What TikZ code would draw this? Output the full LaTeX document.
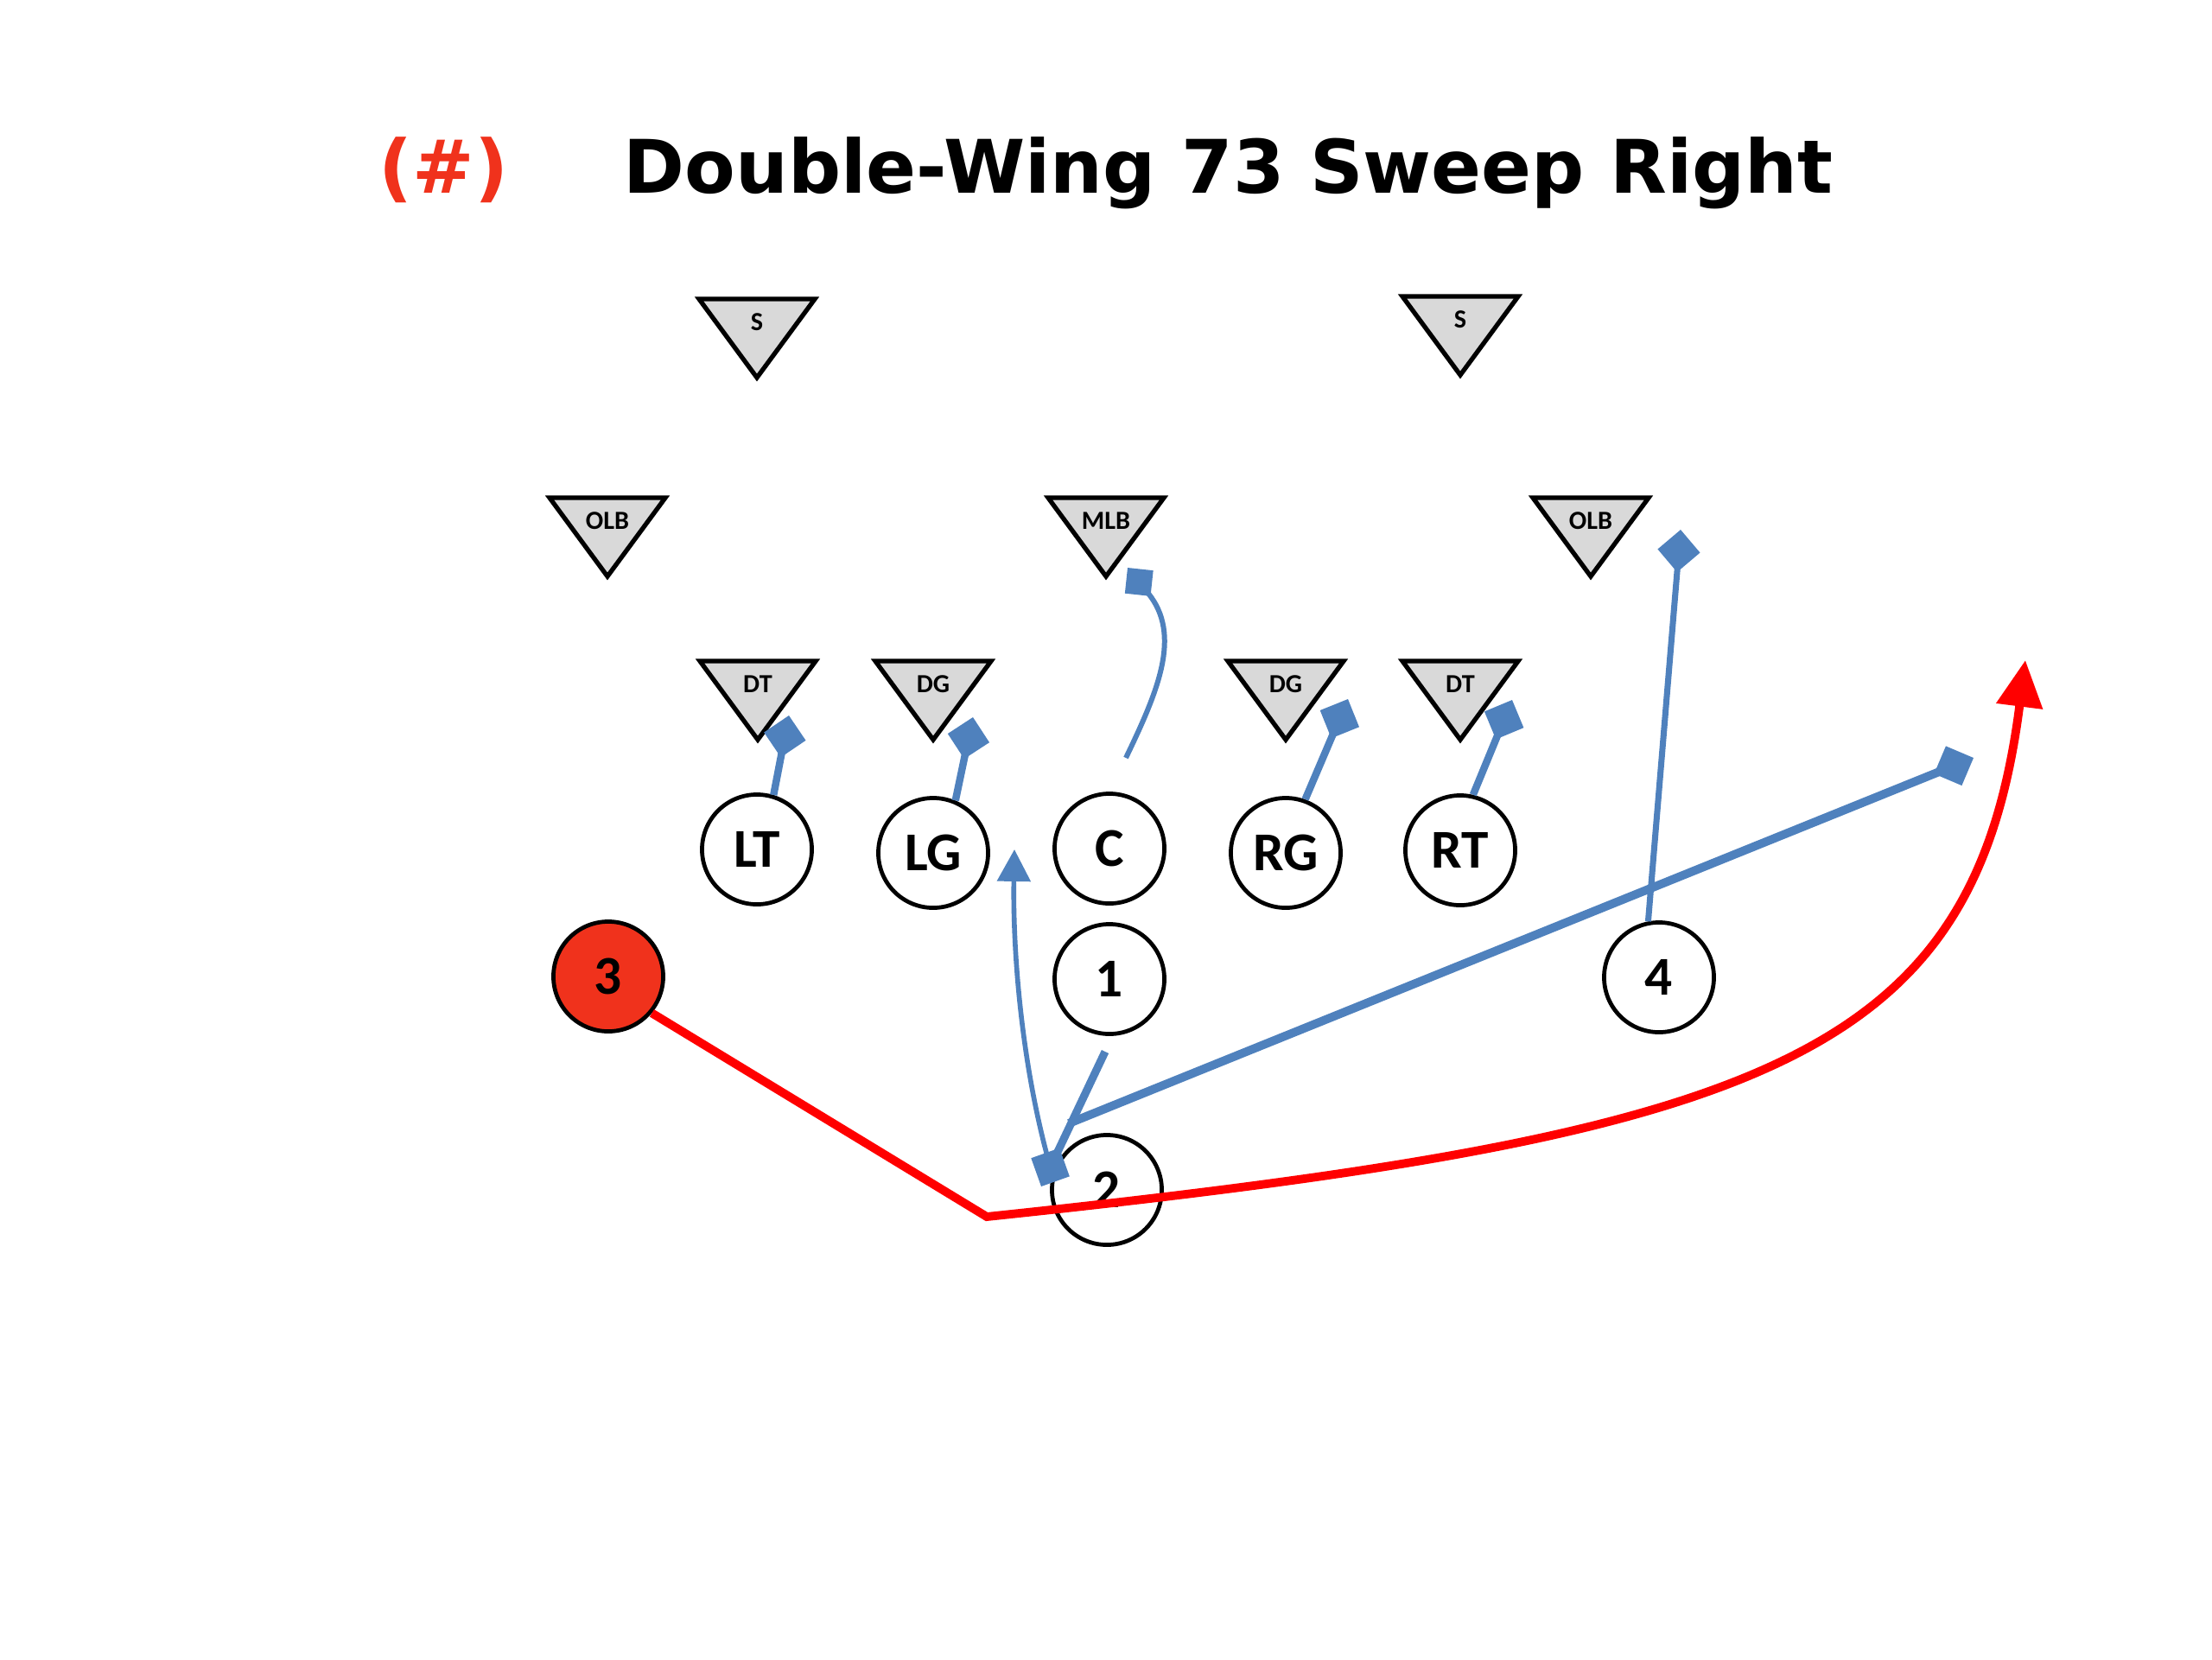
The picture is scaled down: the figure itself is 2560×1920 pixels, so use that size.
\documentclass[tikz,border=0pt]{standalone}
\usepackage{fontspec}
\setmainfont{Carlito}
\newfontfamily\titlefont{DejaVu Sans}
\usetikzlibrary{arrows.meta,calc}
\definecolor{pblue}{RGB}{79,129,189}
\definecolor{pred}{RGB}{255,0,0}
\definecolor{porange}{RGB}{240,50,28}
\definecolor{pgray}{RGB}{217,217,217}
\newcommand{\defender}[4]{%
  \draw[deftri] (#2-67,#3) -- (#2+67,#3) -- (#2,#3+91) -- cycle;
  \node[deflabel] (#1) at (#2,#3+27) {#4};
}
\begin{document}
\begin{tikzpicture}[x=0.01cm,y=-0.01cm,
  player/.style={circle,draw=black,line width=1.35pt,fill=white,minimum size=1.27cm,inner sep=0pt,
    font=\bfseries\fontsize{18}{19}\selectfont},
  hotplayer/.style={player,fill=porange},
  deftri/.style={draw=black,fill=pgray,line width=1.5pt,line join=miter},
  deflabel/.style={inner sep=0pt,font=\bfseries\fontsize{8.6}{10}\selectfont},
  blockline/.style={draw=pblue,line width=2.4pt,-{Diamond[length=14pt,width=14pt]}},
  thinblock/.style={draw=pblue,line width=1.7pt,-{Diamond[length=12pt,width=12pt]}},
  thinarrow/.style={draw=pblue,line width=1.6pt,-{Triangle[length=10.5pt,width=10.8pt]}},
  runpath/.style={draw=pred,line width=2.8pt,-{Triangle[length=15.3pt,width=14.8pt]}},
  titletext/.style={anchor=base west,inner sep=0pt,font=\titlefont\bfseries\fontsize{24.3}{26}\selectfont}
]
\useasboundingbox (0,0) rectangle (2560,1920);

% title
\node[titletext,text=porange] (num) at (438,223) {(\#)};
\node[titletext] (title) at (721,223) {Double-Wing 73 Sweep Right};

% defense
\defender{SL}{876}{346}{S}
\defender{SR}{1690}{343}{S}
\defender{OLBL}{703}{576}{OLB}
\defender{MLB}{1280}{576}{MLB}
\defender{OLBR}{1841}{576}{OLB}
\defender{DTL}{877}{765}{DT}
\defender{DGL}{1080}{765}{DG}
\defender{DGR}{1488}{765}{DG}
\defender{DTR}{1690}{765}{DT}

% offense
\node[player] (LT) at (876,983) {LT};
\node[player] (LG) at (1080,987) {LG};
\node[player] (C) at (1284,982) {C};
\node[player] (RG) at (1488,987) {RG};
\node[player] (RT) at (1690,984) {RT};
\node[player] (P1) at (1284,1133) {1};
\node[hotplayer] (P3) at (704,1130) {3};
\node[player] (P4) at (1920,1131) {4};
\node[player] (P2) at (1281,1377) {2};

% free ends
\coordinate (bLT) at (913,828);
\coordinate (bLG) at (1126,830);
\coordinate (bRG) at (1560,809);
\coordinate (bRT) at (1750,810);
\coordinate (bMLB) at (1305,657);
\coordinate (c0) at (1303,877);
\coordinate (b4) at (1945,613);
\coordinate (q1) at (1279,1217);
\coordinate (b2) at (1205,1373);
\coordinate (j) at (1237,1300);
\coordinate (bR) at (2284,877);
\coordinate (d2) at (1214,1345);
\coordinate (aLG) at (1174,983);
\coordinate (corner) at (1142,1408);
\coordinate (tipR) at (2344,764);

% blocks
\draw[blockline] (LT.73) -- (bLT);
\draw[blockline] (LG.67) -- (bLG);
\draw[blockline] (RG.70) -- (bRG);
\draw[blockline] (RT.77) -- (bRT);
\draw[thinblock] (c0) .. controls (1340,800) and (1368,735) .. (bMLB);
\draw[blockline,line width=2pt] (P4.101) -- (b4);
\draw[blockline,line width=2.6pt] (q1) -- (b2);
\draw[blockline,line width=2.8pt] (j) -- (bR);
\draw[thinarrow] (d2) .. controls (1182,1230) and (1172,1100) .. (aLG);

% sweep
\draw[runpath,line join=miter] (P3.-40) -- (corner) .. controls (2045,1313) and (2285,1225) .. (tipR);
\end{tikzpicture}
\end{document}
